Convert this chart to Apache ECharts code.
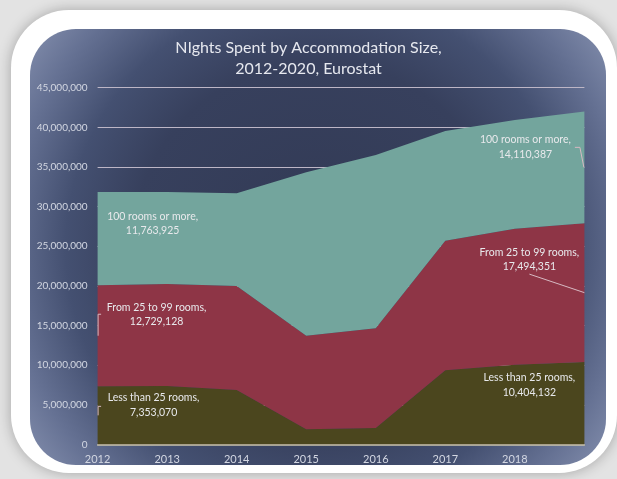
<!DOCTYPE html>
<html>
<head>
<meta charset="utf-8">
<script src="https://cdn.jsdelivr.net/npm/echarts@6/dist/echarts.min.js"></script>
<style>
  html, body { margin: 0; padding: 0; background: #e3e3e3; }
  #chart { width: 617px; height: 479px; }
</style>
</head>
<body>
<div id="chart"></div>
<script>
// Nights spent in accommodation, by establishment size (stacked)
const years = ['2012', '2013', '2014', '2015', '2016', '2017', '2018', '2019'];
const tickLabels = ['2012', '2013', '2014', '2015', '2016', '2017', '2018'];
const seriesNames = ['Less than 25 rooms', 'From 25 to 99 rooms', '100 rooms or more'];
const lessThan25 = [7353070, 7380000, 6870000, 1920000, 2080000, 9360000, 10060000, 10404132];
const from25to99 = [12729128, 12860000, 13120000, 11800000, 12580000, 16340000, 17160000, 17494351];
const over100 = [11763925, 11600000, 11690000, 20610000, 21850000, 13840000, 13710000, 14110387];
const yTicks = { min: 0, max: 45000000, step: 5000000 };

const seriesValues = [lessThan25, from25to99, over100];
const seriesColors = ['#4b461e', '#8e3546', '#73a59d'];

const fmt = v => String(Math.round(v)).replace(/\B(?=(\d{3})+(?!\d))/g, ',');

// Label placement around the middle of each band: label centre offset and leader polyline
const labelLayout = {
  'first-0': { dx: 56, dy: -10, leader: [[3.5, -9], [0.5, -9], [0.5, 0]] },
  'first-1': { dx: 59, dy: -21, leader: [[3.5, -21.5], [0.5, -21.5], [0.5, 0]] },
  'first-2': { dx: 55, dy: -15, leader: null },
  'last-0': { dx: -55, dy: -18, leader: null },
  'last-1': { dx: -55, dy: -33, leader: [[-55, -18.5], [0, 0]] },
  'last-2': { dx: -59, dy: -20, leader: [[-9.5, -20], [-4.5, -20], [-0.5, 0]] }
};

// Band-label records: [category index, stacked base, value, series index, end flag]
const bandLabels = [];
[0, years.length - 1].forEach((idx, e) => {
  let base = 0;
  seriesValues.forEach((arr, s) => {
    bandLabels.push([idx, base, arr[idx], s, e]);
    base += arr[idx];
  });
});

const chart = echarts.init(document.getElementById('chart'), null, { renderer: 'canvas' });

const option = {
  backgroundColor: 'transparent',
  animation: false,
  graphic: [
    {
      // white rounded frame with a soft drop shadow
      type: 'rect', z: -20, silent: true,
      shape: { x: 11, y: 10, width: 606, height: 463, r: 58 },
      style: { fill: '#ffffff', shadowBlur: 14, shadowColor: 'rgba(0,0,0,0.28)' }
    },
    {
      // navy panel with lighter vignette toward the corners
      type: 'rect', z: -19, silent: true,
      shape: { x: 30, y: 29, width: 576, height: 436, r: 46 },
      style: {
        fill: {
          type: 'radial', x: 0.5, y: 0.5, r: 0.85,
          colorStops: [
            { offset: 0, color: '#323a55' },
            { offset: 0.5, color: '#37405d' },
            { offset: 0.68, color: '#445071' },
            { offset: 0.84, color: '#657193' },
            { offset: 1, color: '#8994b2' }
          ]
        }
      }
    }
  ],
  title: {
    text: 'NIghts Spent by Accommodation Size,\n2012-2020, Eurostat',
    left: 'center',
    top: 32,
    textStyle: {
      color: '#e6e8ef',
      fontFamily: 'Lato',
      fontWeight: 'normal',
      fontSize: 16,
      lineHeight: 21
    }
  },
  grid: { left: 97.6, right: 32.6, top: 87.7, bottom: 34.5 },
  xAxis: {
    type: 'category',
    data: years,
    boundaryGap: false,
    axisLine: { show: true, lineStyle: { color: '#cbc5ab', width: 1.5 } },
    axisTick: { show: false },
    splitLine: { show: false },
    axisLabel: {
      color: '#d3d7e2',
      fontFamily: 'Lato',
      fontSize: 11,
      margin: 9,
      interval: 0,
      formatter: v => (tickLabels.includes(v) ? v : '')
    }
  },
  yAxis: {
    type: 'value',
    min: yTicks.min,
    max: yTicks.max,
    interval: yTicks.step,
    axisLine: { show: false },
    axisTick: { show: false },
    splitLine: { show: true, lineStyle: { color: '#bdb6c6', width: 1.2 } },
    axisLabel: {
      color: '#d3d7e2',
      fontFamily: 'Lato',
      fontSize: 10,
      margin: 10,
      formatter: v => fmt(v)
    }
  },
  series: seriesNames.map((name, i) => ({
    name,
    type: 'line',
    stack: 'total',
    data: seriesValues[i],
    symbol: 'none',
    lineStyle: { width: 0 },
    areaStyle: { color: seriesColors[i], opacity: 1 },
    itemStyle: { color: seriesColors[i] },
    z: 2
  })).concat([{
    type: 'custom',
    name: 'band labels',
    coordinateSystem: 'cartesian2d',
    data: bandLabels,
    z: 5,
    silent: true,
    renderItem: (params, api) => {
      const xi = api.value(0), base = api.value(1), val = api.value(2);
      const s = api.value(3), e = api.value(4);
      const key = (e ? 'last-' : 'first-') + s;
      const lay = labelLayout[key];
      const anchor = api.coord([xi, base + val / 2]);
      const cx = anchor[0] + lay.dx, cy = anchor[1] + lay.dy;
      const children = [
        {
          type: 'text',
          style: {
            text: seriesNames[s] + ',\n' + fmt(val),
            x: cx, y: cy,
            align: 'center', verticalAlign: 'middle',
            fill: '#e8e9ec',
            font: '10.5px Lato',
            lineHeight: 14.5
          }
        }
      ];
      if (lay.leader) {
        children.push({
          type: 'polyline',
          shape: { points: lay.leader.map(p => [anchor[0] + p[0], anchor[1] + p[1]]) },
          style: { stroke: '#d7b9c2', lineWidth: 1, fill: null }
        });
      }
      return { type: 'group', children };
    }
  }])
};

chart.setOption(option);
</script>
</body>
</html>
